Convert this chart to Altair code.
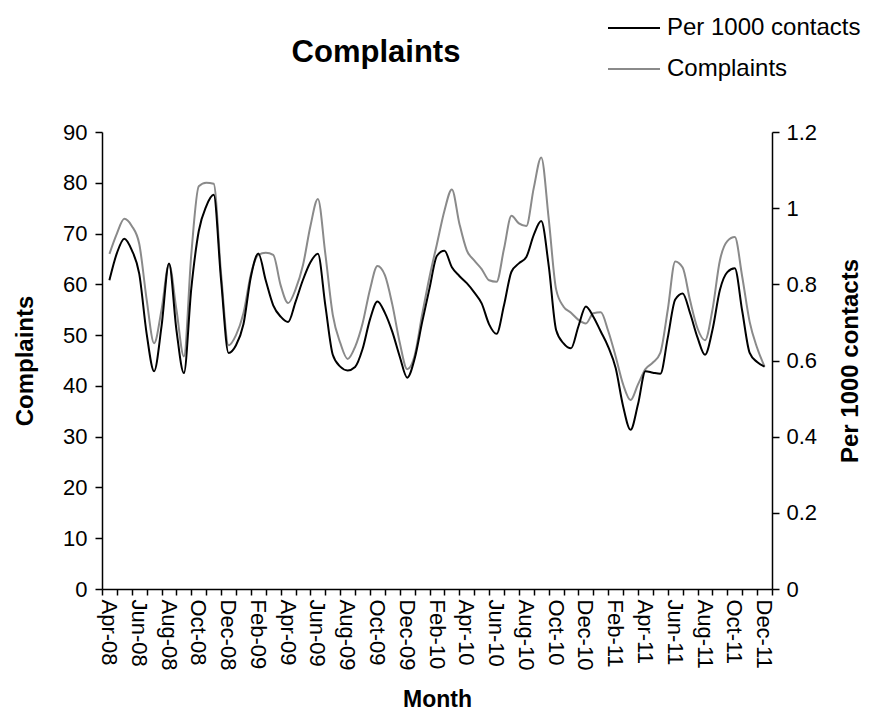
import altair as alt
import numpy as np
import pandas as pd

# Month categories, April 2008 to December 2011
months = [
    "Apr-08", "May-08", "Jun-08", "Jul-08", "Aug-08", "Sep-08", "Oct-08", "Nov-08", "Dec-08",
    "Jan-09", "Feb-09", "Mar-09", "Apr-09", "May-09", "Jun-09", "Jul-09", "Aug-09", "Sep-09",
    "Oct-09", "Nov-09", "Dec-09", "Jan-10", "Feb-10", "Mar-10", "Apr-10", "May-10", "Jun-10",
    "Jul-10", "Aug-10", "Sep-10", "Oct-10", "Nov-10", "Dec-10", "Jan-11", "Feb-11", "Mar-11",
    "Apr-11", "May-11", "Jun-11", "Jul-11", "Aug-11", "Sep-11", "Oct-11", "Nov-11", "Dec-11",
]

# Half-monthly readings (start and middle of each month)
complaints = [
    66.0, 70.0, 72.9, 71.5, 68.0, 57.0, 48.4, 55.0, 64.0, 55.0,
    45.8, 66.0, 79.3, 80.0, 79.8, 62.0, 48.0, 50.0, 54.3, 62.0,
    65.8, 66.2, 65.8, 59.8, 56.3, 59.0, 63.8, 71.5, 76.8, 66.0,
    54.0, 48.5, 45.3, 47.7, 52.3, 59.0, 63.6, 61.8, 56.0, 48.5,
    43.3, 46.0, 54.0, 61.5, 68.0, 74.5, 78.7, 72.0, 66.7, 64.7,
    63.0, 60.8, 60.5, 67.0, 73.5, 72.0, 71.5, 79.0, 85.0, 73.0,
    59.0, 55.6, 54.4, 53.0, 52.3, 54.3, 54.5, 50.8, 45.8, 40.3,
    37.2, 40.3, 43.3, 44.6, 46.5, 55.0, 64.5, 63.3, 56.8, 51.3,
    49.0, 55.0, 64.7, 68.5, 69.3, 61.5, 52.6, 47.5, 43.8,
]

per_1000 = [
    0.811, 0.882, 0.920, 0.890, 0.828, 0.670, 0.572, 0.690, 0.855, 0.680,
    0.567, 0.790, 0.940, 1.005, 1.035, 0.810, 0.620, 0.640, 0.695, 0.820,
    0.881, 0.810, 0.745, 0.715, 0.701, 0.754, 0.812, 0.858, 0.880, 0.745,
    0.615, 0.584, 0.574, 0.583, 0.630, 0.708, 0.755, 0.725, 0.675, 0.610,
    0.555, 0.605, 0.700, 0.790, 0.875, 0.888, 0.845, 0.822, 0.803, 0.779,
    0.750, 0.695, 0.670, 0.745, 0.833, 0.855, 0.872, 0.930, 0.966, 0.850,
    0.680, 0.645, 0.632, 0.690, 0.742, 0.715, 0.676, 0.636, 0.580, 0.480,
    0.418, 0.485, 0.572, 0.568, 0.565, 0.660, 0.760, 0.776, 0.724, 0.660,
    0.615, 0.680, 0.785, 0.832, 0.842, 0.730, 0.620, 0.596, 0.584,
]

complaint_ticks = list(range(0, 100, 10))
rate_ticks = [0, 0.2, 0.4, 0.6, 0.8, 1.0, 1.2]

series_order = ["Per 1000 contacts", "Complaints"]
series_colors = ["#000000", "#8a8a8a"]

FONT = "Liberation Sans"
n_months = len(months)

# time position in months since Apr-08
t = np.arange(len(complaints)) / 2.0
df_c = pd.DataFrame({"t": t, "value": complaints, "series": "Complaints"})
df_r = pd.DataFrame({"t": t, "value": per_1000, "series": "Per 1000 contacts"})

# month boundaries carry the ticks; every second month is labelled at its centre
boundaries = [i - 0.5 for i in range(n_months + 1)]
label_list = [m if i % 2 == 0 else "" for i, m in enumerate(months)]
label_js = "[" + ",".join("'" + s + "'" for s in label_list) + "]"
label_expr = label_js + "[round(datum.value + 0.5)] || ''"

x_enc = alt.X(
    "t:Q",
    scale=alt.Scale(domain=[-0.5, n_months - 0.5], nice=False, zero=False),
    axis=alt.Axis(
        values=boundaries,
        labelExpr=label_expr,
        labelAngle=90,
        labelAlign="left",
        labelBaseline="middle",
        labelOffset=670 / n_months / 2 - 1,
        labelPadding=4,
        labelFontSize=22,
        labelOverlap=False,
        labelFlush=False,
        labelBound=False,
        tickSize=6,
        tickWidth=1.5,
        tickColor="#000000",
        domainColor="#000000",
        domainWidth=1.5,
        grid=False,
        title="Month",
        titleFontSize=23,
        titleFontWeight="bold",
        titlePadding=19,
        labelColor="#000000",
        titleColor="#000000",
    ),
)

stroke_enc = alt.Stroke(
    "series:N",
    scale=alt.Scale(domain=series_order, range=series_colors),
    legend=alt.Legend(
        title=None,
        orient="none",
        legendX=520,
        legendY=-116,
        symbolType="M-4,0H4",
        symbolSize=169,
        symbolStrokeWidth=2,
        labelFontSize=24,
        labelOffset=21,
        labelLimit=400,
        rowPadding=17,
        labelColor="#000000",
    ),
)

complaints_line = (
    alt.Chart(df_c)
    .mark_line(interpolate="monotone", strokeWidth=2)
    .encode(
        x=x_enc,
        y=alt.Y(
            "value:Q",
            scale=alt.Scale(domain=[0, 90], nice=False),
            axis=alt.Axis(
                orient="left",
                values=complaint_ticks,
                tickSize=7,
                tickWidth=1.5,
                tickColor="#000000",
                domainColor="#000000",
                domainWidth=1.5,
                labelFontSize=22,
                labelPadding=8,
                labelColor="#000000",
                grid=False,
                title="Complaints",
                titleFontSize=24,
                titleFontWeight="bold",
                titleColor="#000000",
                titlePadding=25,
            ),
        ),
        stroke=stroke_enc,
    )
)

rate_line = (
    alt.Chart(df_r)
    .mark_line(interpolate="monotone", strokeWidth=2)
    .encode(
        x=x_enc,
        y=alt.Y(
            "value:Q",
            scale=alt.Scale(domain=[0, 1.2], nice=False),
            axis=alt.Axis(
                orient="right",
                values=rate_ticks,
                format=".1~f",
                tickSize=7,
                tickWidth=1.5,
                tickColor="#000000",
                domainColor="#000000",
                domainWidth=1.5,
                labelFontSize=22,
                labelPadding=7,
                labelColor="#000000",
                grid=False,
                title="Per 1000 contacts",
                titleAngle=270,
                titleFontSize=24,
                titleFontWeight="bold",
                titleColor="#000000",
                titlePadding=46,
            ),
        ),
        stroke=stroke_enc,
    )
)

chart = (
    alt.layer(complaints_line, rate_line)
    .resolve_scale(y="independent")
    .properties(
        width=670,
        height=457,
        autosize=alt.AutoSizeParams(type="none"),
        padding={"left": 102, "top": 132, "right": 105, "bottom": 124},
        title=alt.TitleParams(
            "Complaints",
            fontSize=31,
            fontWeight="bold",
            font=FONT,
            color="#000000",
            anchor="middle",
            frame="group",
            dx=-61,
            offset=-53,
        ),
    )
    .configure(font=FONT)
    .configure_view(strokeWidth=0)
)

chart.save("out.html", embed_options={"renderer": "svg", "actions": False})
